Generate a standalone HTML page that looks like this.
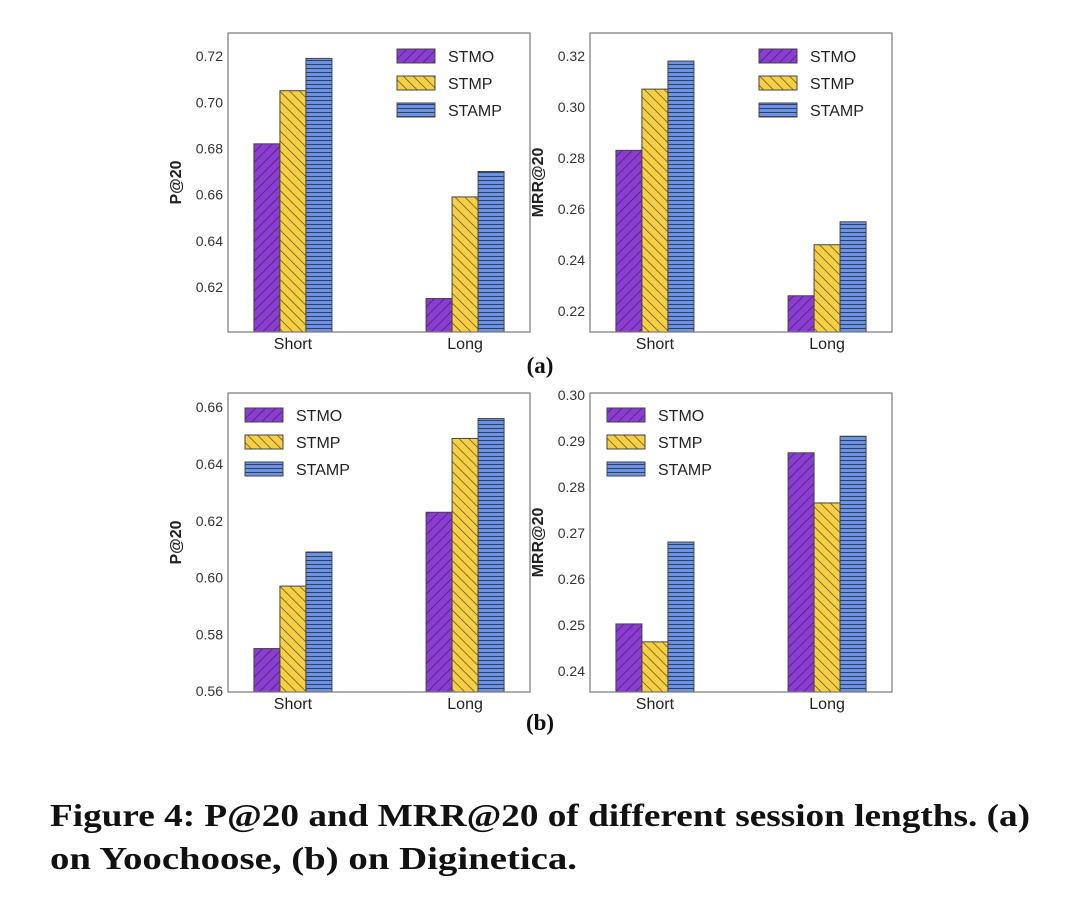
<!DOCTYPE html>
<html><head><meta charset="utf-8"><style>
html,body{margin:0;padding:0;background:#fff;width:1076px;height:904px;overflow:hidden}
svg{display:block}
.tk{font-family:"Liberation Sans",sans-serif;font-size:14px;fill:#333}
.cat{font-family:"Liberation Sans",sans-serif;font-size:16px;fill:#222}
.yl{font-family:"Liberation Sans",sans-serif;font-size:16px;font-weight:bold;fill:#222}
.lg{font-family:"Liberation Sans",sans-serif;font-size:16px;fill:#222}
.cap{font-family:"Liberation Serif",serif;font-weight:bold;font-size:32px;fill:#111}
.sub{font-family:"Liberation Serif",serif;font-weight:bold;font-size:23px;fill:#111}
</style></head><body>
<svg id="fig" width="1076" height="904" viewBox="0 0 1076 904">
<defs>
<pattern id="hp" patternUnits="userSpaceOnUse" width="7" height="7" patternTransform="rotate(45)"><rect width="7" height="7" fill="#8a3dd0"/><line x1="0" y1="0" x2="0" y2="7" stroke="#4a1f7a" stroke-width="1.6"/></pattern>
<pattern id="hy" patternUnits="userSpaceOnUse" width="7" height="7" patternTransform="rotate(-45)"><rect width="7" height="7" fill="#f6cf45"/><line x1="0" y1="0" x2="0" y2="7" stroke="#5a4a1a" stroke-width="1.4"/></pattern>
<pattern id="hb" patternUnits="userSpaceOnUse" width="8" height="4"><rect width="8" height="4" fill="#6c92e0"/><line x1="0" y1="0.5" x2="8" y2="0.5" stroke="#2c3f6e" stroke-width="1"/></pattern>
</defs>
<g id="charts"></g>
<text class="sub" x="540" y="373" text-anchor="middle">(a)</text>
<text class="sub" x="540" y="730" text-anchor="middle">(b)</text>
<text class="cap" x="50" y="826" textLength="980" lengthAdjust="spacingAndGlyphs">Figure 4: P@20 and MRR@20 of different session lengths. (a)</text>
<text class="cap" x="50" y="869" textLength="527" lengthAdjust="spacingAndGlyphs">on Yoochoose, (b) on Diginetica.</text>
</svg>
<script>
const categories = ["Short", "Long"];
const seriesNames = ["STMO", "STMP", "STAMP"];
const aP_STMO = [0.682, 0.615];
const aP_STMP = [0.705, 0.659];
const aP_STAMP = [0.719, 0.670];
const aP_ticks = ["0.62","0.64","0.66","0.68","0.70","0.72"];
const aM_STMO = [0.283, 0.226];
const aM_STMP = [0.307, 0.246];
const aM_STAMP = [0.318, 0.255];
const aM_ticks = ["0.22","0.24","0.26","0.28","0.30","0.32"];
const bP_STMO = [0.575, 0.623];
const bP_STMP = [0.597, 0.649];
const bP_STAMP = [0.609, 0.656];
const bP_ticks = ["0.56","0.58","0.60","0.62","0.64","0.66"];
const bM_STMO = [0.2502, 0.2874];
const bM_STMP = [0.2463, 0.2765];
const bM_STAMP = [0.2680, 0.2910];
const bM_ticks = ["0.24","0.25","0.26","0.27","0.28","0.29","0.30"];

const NS="http://www.w3.org/2000/svg";
const fills=["url(#hp)","url(#hy)","url(#hb)"];
function mk(tag,attrs,parent){const e=document.createElementNS(NS,tag);for(const k in attrs)e.setAttribute(k,attrs[k]);parent.appendChild(e);return e;}

function chart(name,x0,y0,x1,y1,ymin,ymax,ticks,series,ylabel,legX,legY){
  const g=mk("g",{},document.getElementById("charts"));
  
  
  const ys=v=>y1-(v-ymin)/(ymax-ymin)*(y1-y0);
  const bw=26, groupW=3*bw;
  const xc=i=>x0+(x1-x0)*(i===0?0.215:0.785);
  ticks.forEach(t=>{
    const tx=mk("text",{x:x0-5,y:ys(parseFloat(t))+5,"text-anchor":"end",class:"tk"},g);
    tx.textContent=t;
    
    
  });
  series.forEach((vals,s)=>{
    vals.forEach((v,i)=>{
      const bx=xc(i)-groupW/2+s*bw;
      const r=mk("rect",{x:bx,y:ys(v),width:bw,height:y1-ys(v),fill:fills[s],stroke:"#444","stroke-width":1},g);
      
      
    });
  });
  mk("rect",{x:x0,y:y0,width:x1-x0,height:y1-y0,fill:"none",stroke:"#777","stroke-width":1.2},g);
  categories.forEach((c,i)=>{
    const t=mk("text",{x:xc(i),y:y1+17,"text-anchor":"middle",class:"cat"},g);
    t.textContent=c;
    
    
  });
  const cy=(y0+y1)/2;
  const yl=mk("text",{x:x0-47,y:cy,"text-anchor":"middle",class:"yl",transform:"rotate(-90 "+(x0-47)+" "+cy+")"},g);
  yl.textContent=ylabel;
  
  
  seriesNames.forEach((n,s)=>{
    const yy=legY+s*27;
    const p=mk("rect",{x:legX,y:yy-7,width:38,height:14,fill:fills[s],stroke:"#444","stroke-width":1},g);
    
    
    const t=mk("text",{x:legX+51,y:yy+6,class:"lg"},g);
    t.textContent=n;
    
    
  });
}
chart("chart-a-p20",228,33,530,332,0.6005,0.7300,aP_ticks,[aP_STMO,aP_STMP,aP_STAMP],"P@20",397,56);
chart("chart-a-mrr20",590,33,892,332,0.2118,0.3290,aM_ticks,[aM_STMO,aM_STMP,aM_STAMP],"MRR@20",759,56);
chart("chart-b-p20",228,393,530,692,0.5597,0.6650,bP_ticks,[bP_STMO,bP_STMP,bP_STAMP],"P@20",245,415);
chart("chart-b-mrr20",590,393,892,692,0.2354,0.3004,bM_ticks,[bM_STMO,bM_STMP,bM_STAMP],"MRR@20",607,415);
</script>
</body></html>
